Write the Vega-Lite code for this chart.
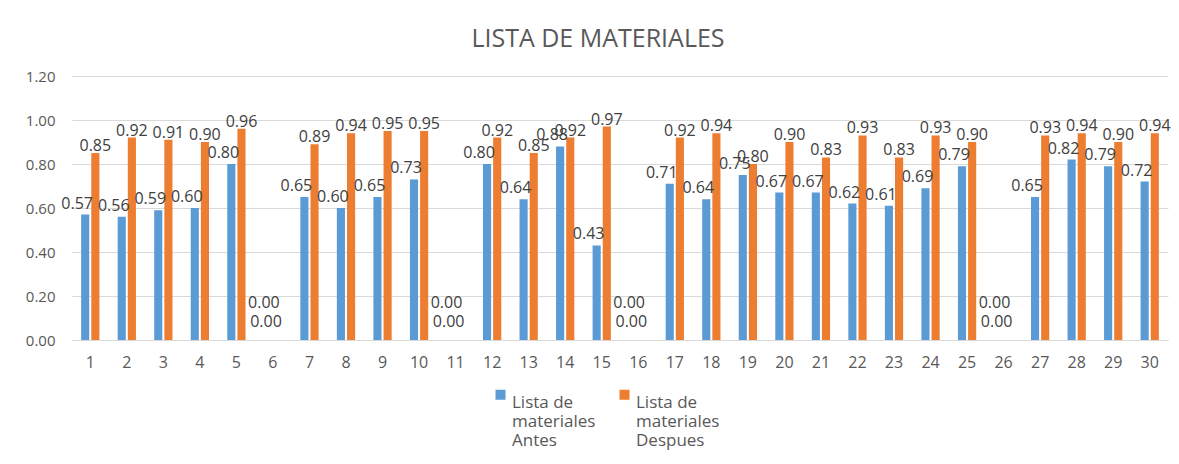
{
  "$schema": "https://vega.github.io/schema/vega-lite/v6.json",
  "width": 1096,
  "height": 264,
  "autosize": {"type": "none"},
  "padding": {"left": 72, "top": 76, "right": 11, "bottom": 124},
  "background": "white",
  "title": {"text": "LISTA DE MATERIALES", "fontSize": 25, "font": "Open Sans", "fontWeight": "normal", "color": "#595959", "offset": 17, "anchor": "middle", "frame": "bounds"},
  "config": {
    "view": {"stroke": null},
    "font": "Open Sans",
    "axis": {"labelFont": "Open Sans", "labelColor": "#595959", "labelFontSize": 15, "ticks": false, "title": null},
    "legend": {"labelFont": "Open Sans", "labelColor": "#595959", "labelFontSize": 17}
  },
  "datasets": {
    "d": [
      {"n":1,"serie":"Lista de materiales Antes","v":0.57},{"n":1,"serie":"Lista de materiales Despues","v":0.85},
      {"n":2,"serie":"Lista de materiales Antes","v":0.56},{"n":2,"serie":"Lista de materiales Despues","v":0.92},
      {"n":3,"serie":"Lista de materiales Antes","v":0.59},{"n":3,"serie":"Lista de materiales Despues","v":0.91},
      {"n":4,"serie":"Lista de materiales Antes","v":0.60},{"n":4,"serie":"Lista de materiales Despues","v":0.90},
      {"n":5,"serie":"Lista de materiales Antes","v":0.80},{"n":5,"serie":"Lista de materiales Despues","v":0.96},
      {"n":6,"serie":"Lista de materiales Antes","v":0},{"n":6,"serie":"Lista de materiales Despues","v":0},
      {"n":7,"serie":"Lista de materiales Antes","v":0.65},{"n":7,"serie":"Lista de materiales Despues","v":0.89},
      {"n":8,"serie":"Lista de materiales Antes","v":0.60},{"n":8,"serie":"Lista de materiales Despues","v":0.94},
      {"n":9,"serie":"Lista de materiales Antes","v":0.65},{"n":9,"serie":"Lista de materiales Despues","v":0.95},
      {"n":10,"serie":"Lista de materiales Antes","v":0.73},{"n":10,"serie":"Lista de materiales Despues","v":0.95},
      {"n":11,"serie":"Lista de materiales Antes","v":0},{"n":11,"serie":"Lista de materiales Despues","v":0},
      {"n":12,"serie":"Lista de materiales Antes","v":0.80},{"n":12,"serie":"Lista de materiales Despues","v":0.92},
      {"n":13,"serie":"Lista de materiales Antes","v":0.64},{"n":13,"serie":"Lista de materiales Despues","v":0.85},
      {"n":14,"serie":"Lista de materiales Antes","v":0.88},{"n":14,"serie":"Lista de materiales Despues","v":0.92},
      {"n":15,"serie":"Lista de materiales Antes","v":0.43},{"n":15,"serie":"Lista de materiales Despues","v":0.97},
      {"n":16,"serie":"Lista de materiales Antes","v":0},{"n":16,"serie":"Lista de materiales Despues","v":0},
      {"n":17,"serie":"Lista de materiales Antes","v":0.71},{"n":17,"serie":"Lista de materiales Despues","v":0.92},
      {"n":18,"serie":"Lista de materiales Antes","v":0.64},{"n":18,"serie":"Lista de materiales Despues","v":0.94},
      {"n":19,"serie":"Lista de materiales Antes","v":0.75},{"n":19,"serie":"Lista de materiales Despues","v":0.80},
      {"n":20,"serie":"Lista de materiales Antes","v":0.67},{"n":20,"serie":"Lista de materiales Despues","v":0.90},
      {"n":21,"serie":"Lista de materiales Antes","v":0.67},{"n":21,"serie":"Lista de materiales Despues","v":0.83},
      {"n":22,"serie":"Lista de materiales Antes","v":0.62},{"n":22,"serie":"Lista de materiales Despues","v":0.93},
      {"n":23,"serie":"Lista de materiales Antes","v":0.61},{"n":23,"serie":"Lista de materiales Despues","v":0.83},
      {"n":24,"serie":"Lista de materiales Antes","v":0.69},{"n":24,"serie":"Lista de materiales Despues","v":0.93},
      {"n":25,"serie":"Lista de materiales Antes","v":0.79},{"n":25,"serie":"Lista de materiales Despues","v":0.90},
      {"n":26,"serie":"Lista de materiales Antes","v":0},{"n":26,"serie":"Lista de materiales Despues","v":0},
      {"n":27,"serie":"Lista de materiales Antes","v":0.65},{"n":27,"serie":"Lista de materiales Despues","v":0.93},
      {"n":28,"serie":"Lista de materiales Antes","v":0.82},{"n":28,"serie":"Lista de materiales Despues","v":0.94},
      {"n":29,"serie":"Lista de materiales Antes","v":0.79},{"n":29,"serie":"Lista de materiales Despues","v":0.90},
      {"n":30,"serie":"Lista de materiales Antes","v":0.72},{"n":30,"serie":"Lista de materiales Despues","v":0.94}
    ]
  },
  "data": {"name": "d"},
  "encoding": {
    "x": {"field": "n", "type": "ordinal", "scale": {"paddingInner": 0.5, "paddingOuter": 0.25},
          "axis": {"labelAngle": 0, "labelPadding": 14, "domainColor": "#D9D9D9", "grid": false, "labelFontSize": 16}},
    "xOffset": {"field": "serie", "type": "nominal", "scale": {"paddingInner": 0.2, "paddingOuter": 0}},
    "y": {"field": "v", "type": "quantitative", "scale": {"domain": [0, 1.2], "nice": false},
          "axis": {"values": [0, 0.2, 0.4, 0.6, 0.8, 1.0, 1.2], "format": ".2f", "domain": false, "gridColor": "#D9D9D9", "labelPadding": 17}}
  },
  "layer": [
    {
      "mark": {"type": "bar"},
      "encoding": {
        "color": {"field": "serie", "type": "nominal",
          "scale": {"domain": ["Lista de materiales Antes", "Lista de materiales Despues"], "range": ["#5B9BD5", "#ED7D31"]},
          "legend": {"orient": "none", "legendX": 420, "legendY": 310, "direction": "horizontal", "title": null, "symbolType": "square", "symbolSize": 100,
                     "columnPadding": 20, "labelLimit": 200,
                     "labelExpr": "datum.label == 'Lista de materiales Antes' ? ['Lista de', 'materiales', 'Antes'] : ['Lista de', 'materiales', 'Despues']",
                     "labelBaseline": "top", "labelOffset": 3}}
      }
    },
    {
      "transform": [{"filter": "datum.serie == 'Lista de materiales Antes' && datum.v > 0"}],
      "mark": {"type": "text", "baseline": "bottom", "dy": -3, "dx": -8, "fontSize": 16, "color": "#404040"},
      "encoding": {"text": {"field": "v", "type": "quantitative", "format": ".2f"}}
    },
    {
      "transform": [{"filter": "datum.serie == 'Lista de materiales Despues' && datum.v > 0"}],
      "mark": {"type": "text", "baseline": "bottom", "dy": 1, "dx": 0, "fontSize": 16, "color": "#404040"},
      "encoding": {"text": {"field": "v", "type": "quantitative", "format": ".2f"}}
    },
    {
      "transform": [{"filter": "datum.serie == 'Lista de materiales Antes' && datum.v == 0"}],
      "mark": {"type": "text", "baseline": "middle", "dy": -37, "dx": -4, "fontSize": 16, "color": "#404040"},
      "encoding": {"text": {"field": "v", "type": "quantitative", "format": ".2f"}}
    },
    {
      "transform": [{"filter": "datum.serie == 'Lista de materiales Despues' && datum.v == 0"}],
      "mark": {"type": "text", "baseline": "middle", "dy": -18, "dx": -12, "fontSize": 16, "color": "#404040"},
      "encoding": {"text": {"field": "v", "type": "quantitative", "format": ".2f"}}
    }
  ]
}
